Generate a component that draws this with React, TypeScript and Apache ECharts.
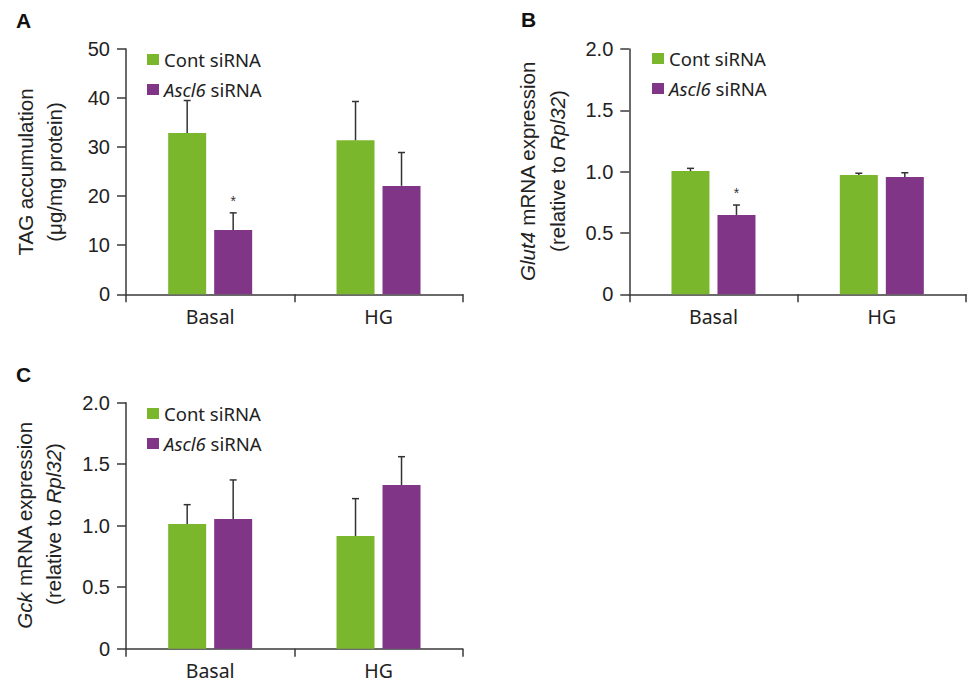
import React, { useEffect, useRef } from "react";
import * as echarts from "echarts";

// ---- data ----
const categories = ["Basal", "HG"];
const seriesNames = ["Cont siRNA", "Ascl6 siRNA"];

// Panel A: TAG accumulation (µg/mg protein)
const tagCont = [32.9, 31.4];
const tagContErr = [6.6, 7.9];
const tagAscl = [13.1, 22.1];
const tagAsclErr = [3.5, 6.8];
const tagAsclSig = [true, false];

// Panel B: Glut4 mRNA expression
const glutCont = [1.005, 0.973];
const glutContErr = [0.022, 0.014];
const glutAscl = [0.647, 0.956];
const glutAsclErr = [0.081, 0.035];
const glutAsclSig = [true, false];

// Panel C: Gck mRNA expression
const gckCont = [1.014, 0.916];
const gckContErr = [0.157, 0.304];
const gckAscl = [1.054, 1.331];
const gckAsclErr = [0.318, 0.23];
const gckAsclSig = [false, false];

const noSig = [false, false];

// y-axis tick settings
const tagTicks = { min: 0, max: 50, interval: 10 };
const mrnaTicks = { min: 0, max: 2, interval: 0.5 };

// ---- style ----
const GREEN = "#7bb72c";
const PURPLE = "#813587";
const AXIS = "#3a3a3a";
const TEXT = "#222";
const SANS = "Liberation Sans";
const SANS2 = "Noto Sans";
const BAR_W = 38;
const BAR_GAP_PX = 8;

const grids = [
  { left: 126, top: 49, width: 336.7, height: 245.3 },
  { left: 629.3, top: 49, width: 336.7, height: 245.3 },
  { left: 126, top: 402.7, width: 336.7, height: 246 },
];

function errData(means: number[], errs: number[], which: number, sig: boolean[]) {
  return means.map((m, i) => [i, which, m, m + errs[i], sig[i] ? 1 : 0]);
}

function renderErr(params: any, api: any) {
  const cat = api.value(0);
  const which = api.value(1);
  const mean = api.value(2);
  const top = api.value(3);
  const sig = api.value(4);
  const p0 = api.coord([cat, mean]);
  const p1 = api.coord([cat, top]);
  const off = (which === 0 ? -1 : 1) * (BAR_W + BAR_GAP_PX) / 2;
  const x = p0[0] + off;
  const st = { stroke: "#333", lineWidth: 1.5 };
  const children: any[] = [
    { type: "line", shape: { x1: x, y1: p0[1], x2: x, y2: p1[1] }, style: st },
    { type: "line", shape: { x1: x - 3.5, y1: p1[1], x2: x + 3.5, y2: p1[1] }, style: st },
  ];
  if (sig) {
    children.push({
      type: "text",
      x: x,
      y: p1[1] - 12,
      style: {
        text: "*",
        fill: "#333",
        fontSize: 14,
        fontFamily: SANS,
        align: "center",
        verticalAlign: "middle",
      },
    });
  }
  return { type: "group", children };
}

function yTitle(x: number, y: number, text: string) {
  return {
    type: "text",
    x,
    y,
    rotation: Math.PI / 2,
    style: {
      text,
      fill: TEXT,
      fontSize: 20.5,
      fontFamily: SANS,
      align: "center",
      verticalAlign: "middle",
      rich: {
        i: { fontSize: 20.5, fontFamily: SANS, fontStyle: "italic", fill: TEXT },
      },
    },
  };
}

function panelLetter(x: number, y: number, text: string) {
  return {
    type: "text",
    x,
    y,
    style: {
      text,
      fill: "#111",
      fontSize: 21,
      fontWeight: "bold",
      fontFamily: SANS,
      align: "left",
      verticalAlign: "middle",
    },
  };
}

export default function App() {
  const ref = useRef<HTMLDivElement>(null);
  useEffect(() => {
    if (!ref.current) return;
    const chart = echarts.init(ref.current, null, { renderer: "svg" });

    const xAxes = grids.map((_, gi) => ({
      type: "category",
      gridIndex: gi,
      data: categories,
      axisLine: { lineStyle: { color: AXIS, width: 1.5 } },
      axisTick: { show: true, length: 8, lineStyle: { color: AXIS, width: 1.5 } },
      axisLabel: { fontSize: 19.5, color: TEXT, margin: 12, fontFamily: SANS2 },
    }));

    const tickSets = [tagTicks, mrnaTicks, mrnaTicks];
    const yAxes = grids.map((_, gi) => ({
      type: "value",
      gridIndex: gi,
      min: tickSets[gi].min,
      max: tickSets[gi].max,
      interval: tickSets[gi].interval,
      axisLine: { show: true, lineStyle: { color: AXIS, width: 1.5 } },
      axisTick: { show: true, length: 9, lineStyle: { color: AXIS, width: 1.5 } },
      splitLine: { show: false },
      axisLabel: {
        fontSize: 20,
        color: TEXT,
        margin: 16,
        fontFamily: SANS,
        formatter: (v: number) => (gi === 0 || v === 0 ? String(v) : v.toFixed(1)),
      },
    }));

    const panels = [
      { cont: tagCont, contErr: tagContErr, ascl: tagAscl, asclErr: tagAsclErr, sig: tagAsclSig },
      { cont: glutCont, contErr: glutContErr, ascl: glutAscl, asclErr: glutAsclErr, sig: glutAsclSig },
      { cont: gckCont, contErr: gckContErr, ascl: gckAscl, asclErr: gckAsclErr, sig: gckAsclSig },
    ];

    const series: any[] = [];
    panels.forEach((p, gi) => {
      series.push({
        type: "bar",
        name: seriesNames[0],
        xAxisIndex: gi,
        yAxisIndex: gi,
        data: p.cont,
        barWidth: BAR_W,
        barGap: (BAR_GAP_PX / BAR_W) * 100 + "%",
        itemStyle: { color: GREEN },
      });
      series.push({
        type: "bar",
        name: seriesNames[1],
        xAxisIndex: gi,
        yAxisIndex: gi,
        data: p.ascl,
        barWidth: BAR_W,
        barGap: (BAR_GAP_PX / BAR_W) * 100 + "%",
        itemStyle: { color: PURPLE },
      });
      series.push({
        type: "custom",
        name: "err" + gi,
        xAxisIndex: gi,
        yAxisIndex: gi,
        renderItem: renderErr,
        encode: { x: 0, y: 3 },
        data: [
          ...errData(p.cont, p.contErr, 0, noSig),
          ...errData(p.ascl, p.asclErr, 1, p.sig),
        ],
        z: 5,
      });
    });

    const legendPos = [
      { left: 147, top: 50 },
      { left: 652, top: 49 },
      { left: 147, top: 404 },
    ];
    const legends = legendPos.map((lp) => ({
      ...lp,
      orient: "vertical",
      padding: 0,
      itemGap: 11,
      itemWidth: 12,
      itemHeight: 11,
      icon: "rect",
      data: seriesNames,
      selectedMode: false,
      formatter: (name: string) => (name === "Ascl6 siRNA" ? "{i|Ascl6} siRNA" : name),
      textStyle: {
        fontSize: 18.5,
        lineHeight: 18,
        color: TEXT,
        fontFamily: SANS2,
        rich: {
          i: { fontSize: 18.5, lineHeight: 18, fontFamily: SANS2, fontStyle: "italic", color: TEXT },
        },
      },
    }));

    chart.setOption({
      animation: false,
      backgroundColor: "#ffffff",
      grid: grids,
      xAxis: xAxes,
      yAxis: yAxes,
      legend: legends,
      series,
      graphic: [
        panelLetter(16, 20, "A"),
        panelLetter(521, 19, "B"),
        panelLetter(16, 374, "C"),
        yTitle(25, 172, "TAG accumulation"),
        yTitle(54, 172, "(μg/mg protein)"),
        yTitle(527, 171, "{i|Glut4} mRNA expression"),
        yTitle(557, 171, "(relative to {i|Rpl32})"),
        yTitle(24, 525, "{i|Gck} mRNA expression"),
        yTitle(53, 524, "(relative to {i|Rpl32})"),
      ],
    });
    return () => chart.dispose();
  }, []);
  return (
    <div
      ref={ref}
      style={{ position: "fixed", left: 0, top: 0, width: 973, height: 683, background: "#fff" }}
    />
  );
}
